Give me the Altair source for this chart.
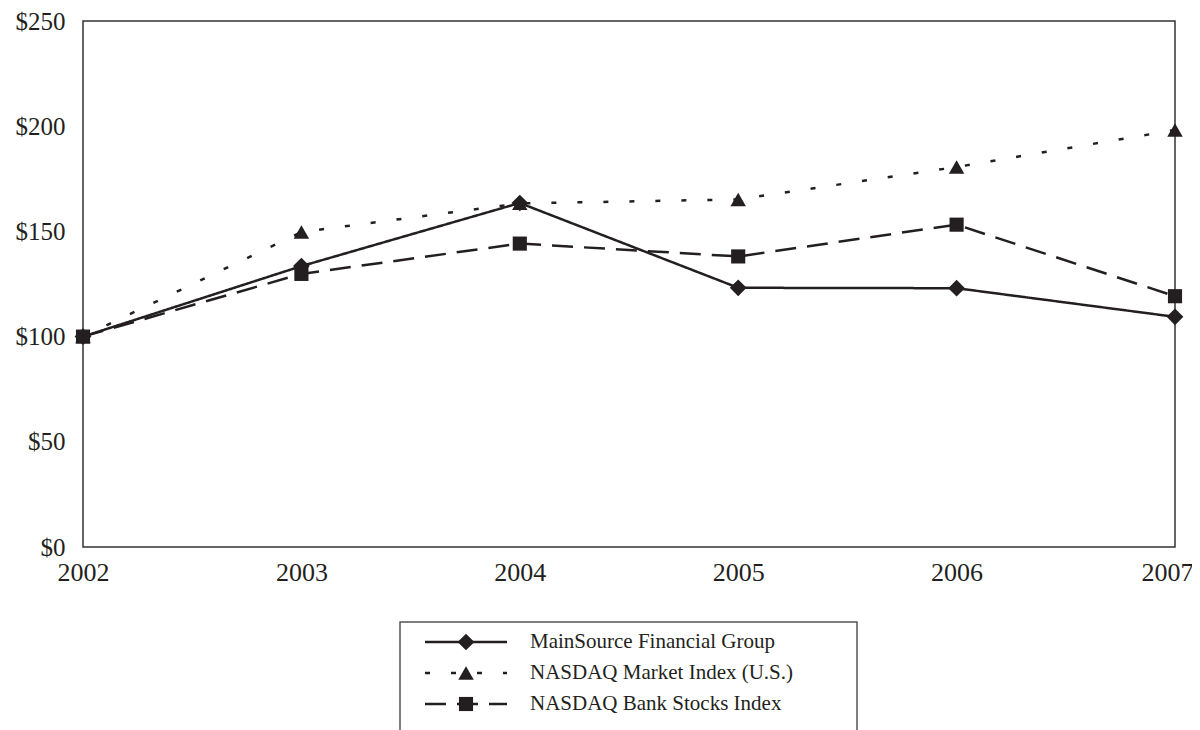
import altair as alt
import pandas as pd

# ---- data ----
years = ["2002", "2003", "2004", "2005", "2006", "2007"]
series_names = [
    "MainSource Financial Group",
    "NASDAQ Market Index (U.S.)",
    "NASDAQ Bank Stocks Index",
]
mainsource_values = [100, 133.5, 163.5, 123.2, 123.0, 109.4]
nasdaq_market_values = [100, 149.7, 163.3, 165.2, 180.6, 198.2]
nasdaq_bank_values = [100, 129.8, 144.2, 138.1, 153.2, 119.2]
y_ticks = [0, 50, 100, 150, 200, 250]

rows = []
for name, vals in zip(series_names, [mainsource_values, nasdaq_market_values, nasdaq_bank_values]):
    for yr, v in zip(years, vals):
        rows.append({"year": yr, "value": v, "series": name})
df = pd.DataFrame(rows)
legend_df = pd.DataFrame({"series": series_names})

INK = "#231f20"
FONT = "Liberation Serif"

shape_scale = alt.Scale(domain=series_names, range=["diamond", "triangle-up", "square"])
size_scale = alt.Scale(domain=series_names, range=[280, 200, 175])
dash_scale = alt.Scale(domain=series_names, range=[[1, 0], [5, 21], [21, 11]])

x_scale = alt.Scale(type="point", padding=0, domain=years)
x_axis = alt.Axis(title=None, labelAngle=0, labelFontSize=26, labelFont=FONT,
                  labelColor=INK, labelPadding=12, ticks=False, tickSize=0,
                  domain=False, grid=False,
                  labelOffset={"condition": {"test": "datum.value == '2007'", "value": -8},
                               "value": 0})
y_scale = alt.Scale(domain=[0, 250], nice=False, zero=True)
y_axis = alt.Axis(title=None, values=y_ticks, format="$.0f", labelFontSize=25,
                  labelFont=FONT, labelColor=INK, labelPadding=18, ticks=False,
                  tickSize=0, domain=False, grid=False)

lines = alt.Chart(df).mark_line(strokeWidth=2.5, color=INK).encode(
    x=alt.X("year:O", scale=x_scale, axis=x_axis),
    y=alt.Y("value:Q", scale=y_scale, axis=y_axis),
    strokeDash=alt.StrokeDash("series:N", scale=dash_scale, legend=None),
    detail="series:N",
)

points = alt.Chart(df).mark_point(filled=True, opacity=1, color=INK).encode(
    x=alt.X("year:O", scale=x_scale, axis=x_axis),
    y=alt.Y("value:Q", scale=y_scale, axis=y_axis),
    shape=alt.Shape("series:N", scale=shape_scale, legend=None),
    size=alt.Size("series:N", scale=size_scale, legend=None),
)

main = alt.layer(lines, points)

# ---- hand-made legend box below the plot ----
leg_y = alt.Y("series:N", scale=alt.Scale(type="point", padding=0, domain=series_names,
                                          range=[621, 683]), axis=None)

box = alt.Chart(alt.Data(values=[{"k": 1}])).mark_rect(
    filled=False, stroke="#555555", strokeWidth=1.5
).encode(
    x=alt.value(317), x2=alt.value(774), y=alt.value(601), y2=alt.value(740)
)

leg_rules = alt.Chart(legend_df).mark_rule(strokeWidth=2.5, color=INK).encode(
    x=alt.value(342), x2=alt.value(424), y=leg_y,
    strokeDash=alt.StrokeDash("series:N", scale=dash_scale, legend=None),
)
leg_points = alt.Chart(legend_df).mark_point(filled=True, opacity=1, color=INK).encode(
    x=alt.value(383), y=leg_y,
    shape=alt.Shape("series:N", scale=shape_scale, legend=None),
    size=alt.Size("series:N", scale=size_scale, legend=None),
)
leg_text = alt.Chart(legend_df).mark_text(
    align="left", baseline="middle", font=FONT, fontSize=21, color=INK
).encode(x=alt.value(447), y=leg_y, text="series:N")

legend = alt.layer(box, leg_rules, leg_points, leg_text)

chart = alt.layer(main, legend).resolve_scale(y="independent").properties(
    width=1092, height=526,
    autosize=alt.AutoSizeParams(type="none"),
    padding={"left": 75, "top": 13, "right": 17, "bottom": 183},
).configure_view(stroke="#333333", strokeWidth=1.5)

chart.save("out.html", embed_options={"renderer": "svg", "actions": False})
